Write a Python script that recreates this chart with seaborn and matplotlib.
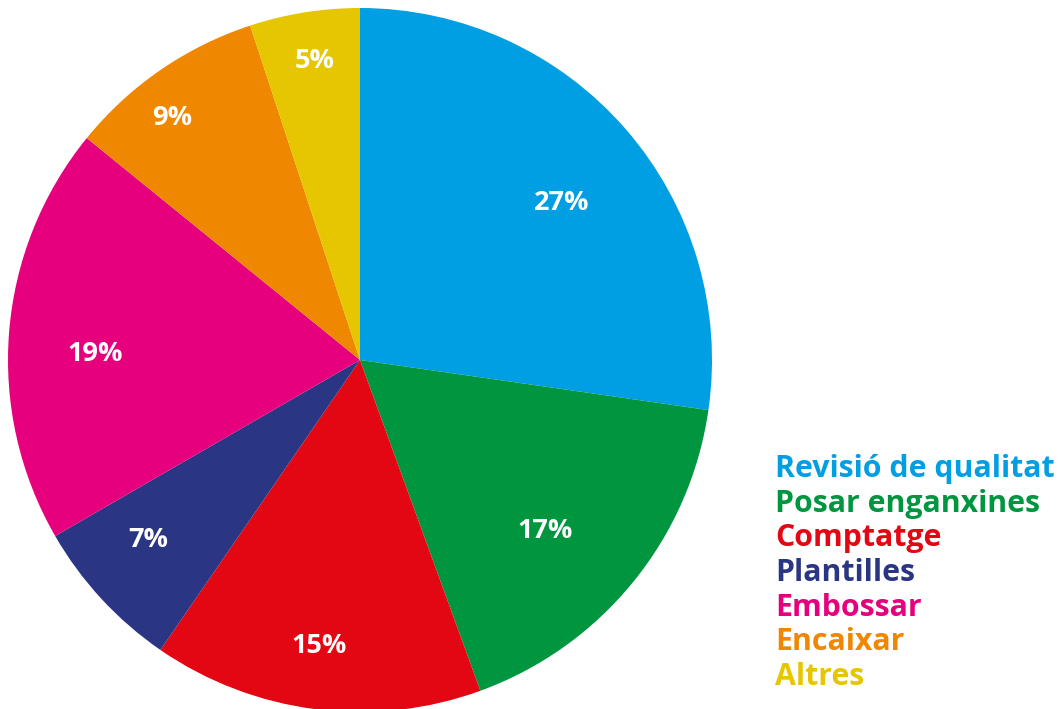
import matplotlib
matplotlib.use("Agg")
import matplotlib.pyplot as plt
import seaborn as sns
import numpy as np

sns.set_theme(style="white")
plt.rcParams['font.family'] = ['Open Sans', 'DejaVu Sans']

categories = ["Revisió de qualitat", "Posar enganxines", "Comptatge", "Plantilles",
              "Embossar", "Encaixar", "Altres"]
values = [27, 17, 15, 7, 19, 9, 5]
colors = ["#009FE3", "#009640", "#E30613", "#2A3583", "#E6007E", "#F08700", "#E6C600"]

# label placement style (radius fraction, angular shift in degrees)
label_radius = [0.730, 0.710, 0.811, 0.784, 0.753, 0.876, 0.868]
label_shift = [-2.5, -3.0, -0.9, -2.8, 2.7, 2.9, -0.5]

fig = plt.figure(figsize=(10.62, 7.09), dpi=100)
ax = fig.add_axes([8/1062, 1 - 712/709, 704/1062, 704/709])
wedges, texts, autotexts = ax.pie(values, colors=colors, startangle=90, counterclock=False,
                                  autopct=lambda p: f"{p:.0f}%", pctdistance=0.75,
                                  textprops=dict(color="white", fontsize=19.5, fontweight="bold"),
                                  wedgeprops=dict(linewidth=0))
for w, t, r, s in zip(wedges, autotexts, label_radius, label_shift):
    ang = np.deg2rad((w.theta1 + w.theta2) / 2 + s)
    t.set_position((r * np.cos(ang), r * np.sin(ang)))
    t.set_verticalalignment("center_baseline")
ax.set_xlim(-1, 1)
ax.set_ylim(-1, 1)
ax.set_aspect("equal")
ax.axis("off")

for i, (cat, col) in enumerate(zip(categories, colors)):
    fig.text(775/1062, 1 - (477 + i * 34.67)/709, cat, color=col, fontsize=21.8,
             fontweight="bold", va="baseline", ha="left")

fig.savefig("out.png", dpi=100)
